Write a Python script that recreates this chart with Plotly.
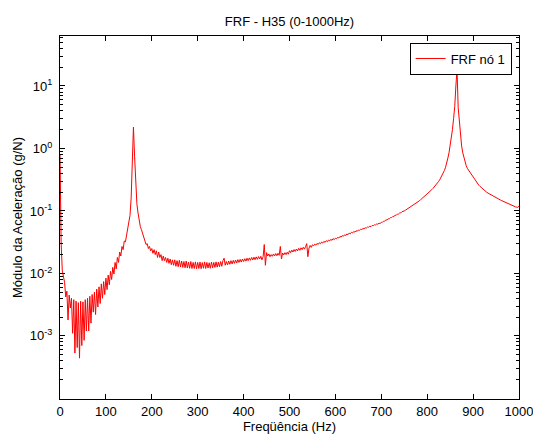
import plotly.graph_objects as go

# ---- data ----
TITLE = "FRF - H35 (0-1000Hz)"
X_LABEL = "Freqüência (Hz)"
Y_LABEL = "Módulo da Aceleração (g/N)"
SERIES_NAME = "FRF nó 1"

FREQ_START = 0.0   # Hz
FREQ_STEP = 2.5    # Hz

# |H| (g/N), one value per FREQ_STEP from 0 to 1000 Hz (rows of 50 Hz)
mag_000 = [0.8, 0.03, 0.011, 0.0085, 0.0072, 0.0042, 0.0052, 0.0018, 0.0045, 0.0028,
           0.0040, 0.0011, 0.0038, 0.00053, 0.0036, 0.00065, 0.0034, 0.00044, 0.0036, 0.0007]
mag_050 = [0.0035, 0.00085, 0.0038, 0.0012, 0.0040, 0.0012, 0.0043, 0.0016, 0.0046, 0.0024,
           0.0050, 0.0022, 0.0056, 0.0029, 0.0061, 0.0033, 0.0068, 0.0040, 0.0074, 0.0046]
mag_100 = [0.0084, 0.0055, 0.0094, 0.0066, 0.0108, 0.0080, 0.0125, 0.0098, 0.0150, 0.0118,
           0.0180, 0.0150, 0.0220, 0.0190, 0.0270, 0.0240, 0.0330, 0.0320, 0.0410, 0.0480]
mag_150 = [0.060, 0.085, 0.16, 0.55, 2.2, 0.75, 0.22, 0.13, 0.093, 0.07,
           0.056, 0.050, 0.043, 0.036, 0.034, 0.029, 0.030, 0.025, 0.027, 0.023]
mag_200 = [0.025, 0.021, 0.024, 0.020, 0.023, 0.018, 0.022, 0.018, 0.020, 0.016,
           0.019, 0.016, 0.018, 0.015, 0.0175, 0.0145, 0.017, 0.0138, 0.0165, 0.0135]
mag_250 = [0.0165, 0.013, 0.016, 0.0128, 0.0162, 0.0127, 0.0158, 0.0125, 0.0155, 0.0123,
           0.0158, 0.0122, 0.0152, 0.0121, 0.0155, 0.0120, 0.0150, 0.0120, 0.0153, 0.0119]
mag_300 = [0.0150, 0.0120, 0.0152, 0.0119, 0.0149, 0.0121, 0.0153, 0.0120, 0.0150, 0.0122,
           0.0148, 0.0121, 0.0152, 0.0123, 0.0150, 0.0125, 0.0153, 0.0126, 0.0151, 0.0128]
mag_350 = [0.0155, 0.0130, 0.0160, 0.0175, 0.0135, 0.0155, 0.0137, 0.0158, 0.0140, 0.0160,
           0.0142, 0.0162, 0.0145, 0.0164, 0.0147, 0.0166, 0.0150, 0.0168, 0.0152, 0.0170]
mag_400 = [0.0155, 0.0172, 0.0157, 0.0175, 0.0160, 0.0177, 0.0162, 0.0180, 0.0164, 0.0182,
           0.0166, 0.0184, 0.0168, 0.0186, 0.0170, 0.0188, 0.0165, 0.0185, 0.0290, 0.0135]
mag_450 = [0.0215, 0.0190, 0.0205, 0.0185, 0.0200, 0.0188, 0.0205, 0.0190, 0.0208, 0.0192,
           0.0210, 0.0195, 0.0270, 0.0170, 0.0212, 0.0198, 0.0215, 0.0200, 0.0218, 0.0203]
mag_500 = [0.0231, 0.0215, 0.0236, 0.0220, 0.0241, 0.0225, 0.0246, 0.0229, 0.0252, 0.0234,
           0.0257, 0.0240, 0.0262, 0.0245, 0.0268, 0.0300, 0.0185, 0.0255, 0.0280, 0.0261]
mag_550 = [0.0287, 0.0277, 0.0294, 0.0284, 0.0302, 0.0291, 0.0310, 0.0298, 0.0318, 0.0306,
           0.0326, 0.0314, 0.0334, 0.0322, 0.0342, 0.0331, 0.0352, 0.0338, 0.0361, 0.0347]
mag_600 = [0.0367, 0.0359, 0.0378, 0.0369, 0.0391, 0.0381, 0.0403, 0.0393, 0.0415, 0.0405,
           0.0428, 0.0417, 0.0442, 0.0430, 0.0455, 0.0444, 0.0469, 0.0458, 0.0483, 0.0471]
mag_650 = [0.0495, 0.0490, 0.0509, 0.0503, 0.0523, 0.0517, 0.0538, 0.0532, 0.0553, 0.0548,
           0.0569, 0.0562, 0.0586, 0.0579, 0.0602, 0.0596, 0.0619, 0.0613, 0.0637, 0.0630]
mag_700 = [0.0656, 0.0657, 0.0686, 0.0687, 0.0716, 0.0718, 0.0748, 0.0749, 0.0781, 0.0782,
           0.0816, 0.0817, 0.0851, 0.0853, 0.0890, 0.0891, 0.0929, 0.0931, 0.0971, 0.0972]
mag_750 = [0.1000, 0.1027, 0.1054, 0.1082, 0.1111, 0.1141, 0.1171, 0.1202, 0.1234, 0.1267,
           0.1300, 0.1347, 0.1395, 0.1445, 0.1497, 0.1551, 0.1607, 0.1665, 0.1725, 0.1786]
mag_800 = [0.185, 0.192, 0.200, 0.209, 0.219, 0.229, 0.240, 0.252, 0.265, 0.280,
           0.297, 0.318, 0.342, 0.370, 0.404, 0.445, 0.500, 0.570, 0.700, 0.850]
mag_850 = [1.10, 1.45, 2.0, 3.0, 4.7, 10.0, 18.3, 4.5, 2.5, 1.6,
           1.1, 0.85, 0.70, 0.60, 0.53, 0.48, 0.45, 0.43, 0.40, 0.37]
mag_900 = [0.34, 0.32, 0.30, 0.283, 0.270, 0.258, 0.247, 0.237, 0.225, 0.217,
           0.210, 0.204, 0.198, 0.193, 0.188, 0.184, 0.180, 0.176, 0.172, 0.168]
mag_950 = [0.164, 0.160, 0.156, 0.152, 0.149, 0.146, 0.143, 0.140, 0.137, 0.134,
           0.131, 0.128, 0.126, 0.124, 0.122, 0.120, 0.118, 0.116, 0.115, 0.114, 0.120]

magnitude = (mag_000 + mag_050 + mag_100 + mag_150 + mag_200 + mag_250 + mag_300
             + mag_350 + mag_400 + mag_450 + mag_500 + mag_550 + mag_600 + mag_650
             + mag_700 + mag_750 + mag_800 + mag_850 + mag_900 + mag_950)

x_ticks = [0, 100, 200, 300, 400, 500, 600, 700, 800, 900, 1000]
y_ticks = [1e-3, 1e-2, 1e-1, 1e0, 1e1]
y_tick_text = ["10<sup>-3</sup>", "10<sup>-2</sup>", "10<sup>-1</sup>",
               "10<sup>0</sup>", "10<sup>1</sup>"]
y_minor = [m * 10.0 ** e for e in range(-4, 2) for m in range(2, 10)]

FONT = "Liberation Sans, Arial, Helvetica, sans-serif"

fig = go.Figure()
fig.add_trace(go.Scatter(
    x0=FREQ_START, dx=FREQ_STEP, y=magnitude,
    mode="lines", name=SERIES_NAME,
    line=dict(color="#ff0000", width=1),
))

fig.update_layout(
    width=533, height=436,
    margin=dict(l=60, r=14, t=36, b=37, autoexpand=False),
    paper_bgcolor="white", plot_bgcolor="white",
    font=dict(family=FONT, size=13, color="black"),
    title=dict(text=TITLE, x=0.5, xref="paper", xanchor="center",
               y=1 - 21 / 436, yref="container", yanchor="middle",
               font=dict(family=FONT, size=13, color="black")),
    showlegend=True,
    legend=dict(x=0.984, y=0.982, xanchor="right", yanchor="top",
                bgcolor="white", bordercolor="black", borderwidth=1,
                font=dict(family=FONT, size=13, color="black"),
                itemwidth=30),
)

fig.update_xaxes(
    range=[-0.0001, 1000.0001], tickmode="array", tickvals=x_ticks,
    automargin=False, ticklabeloverflow="allow",
    showline=True, linecolor="black", linewidth=1, mirror="allticks",
    ticks="inside", ticklen=5, tickcolor="black", tickwidth=1,
    showgrid=False, zeroline=False,
    title=dict(text=X_LABEL, standoff=4, font=dict(size=13)),
    tickfont=dict(size=13),
)
fig.update_yaxes(
    type="log", range=[-4.01, 1.80],
    automargin=False,
    tickmode="array", tickvals=y_ticks, ticktext=y_tick_text,
    showline=True, linecolor="black", linewidth=1, mirror="allticks",
    ticks="inside", ticklen=5, tickcolor="black", tickwidth=1,
    ticklabelstandoff=4,
    minor=dict(tickmode="array", tickvals=y_minor, ticks="inside",
               ticklen=3, tickcolor="black", showgrid=False),
    showgrid=False, zeroline=False,
    title=dict(text=Y_LABEL, standoff=4, font=dict(size=13)),
    tickfont=dict(size=13),
)

fig.write_html("out.html", config={"displayModeBar": False})

# remove the browser's default page margin so the figure sits at (0, 0)
with open("out.html", encoding="utf-8") as fh:
    page = fh.read()
page = page.replace("<head>", "<head><style>html,body{margin:0;padding:0;}</style>", 1)
with open("out.html", "w", encoding="utf-8") as fh:
    fh.write(page)
